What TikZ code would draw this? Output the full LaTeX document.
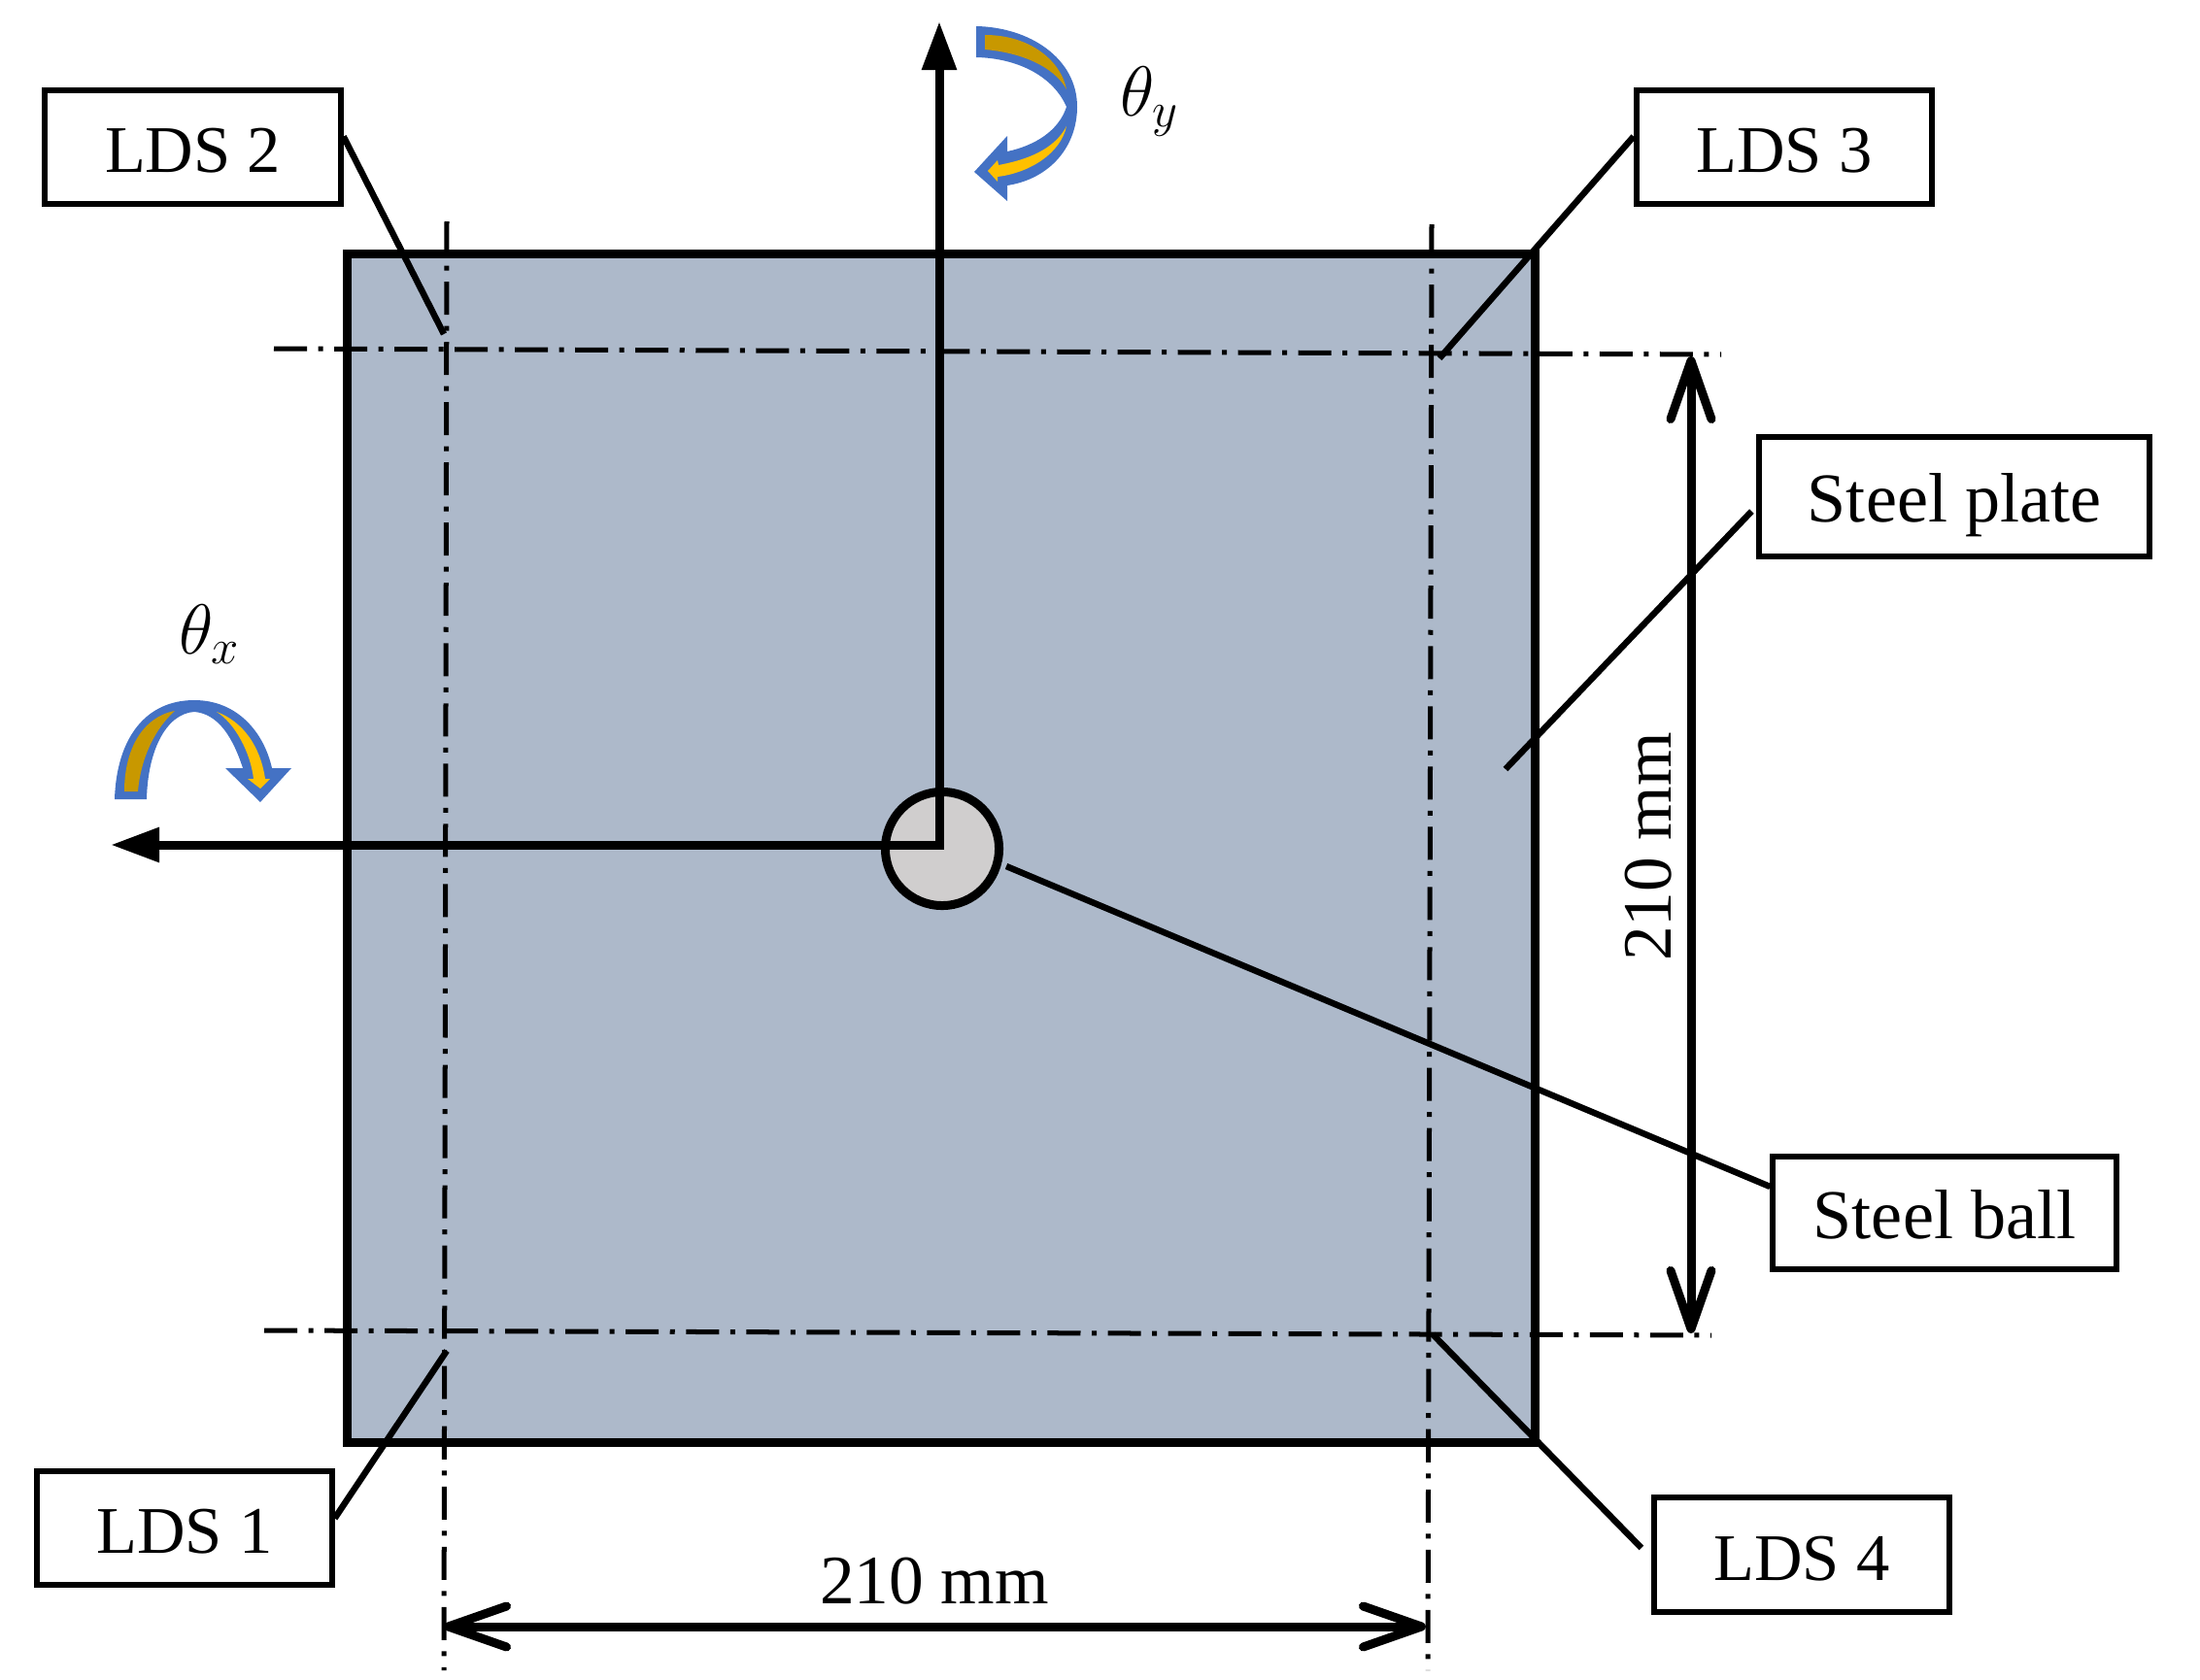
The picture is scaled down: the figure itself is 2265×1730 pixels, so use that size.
\documentclass[tikz,border=0pt]{standalone}
\usepackage{fontspec}
\setmainfont{Liberation Serif}
\usetikzlibrary{arrows.meta, positioning}
\definecolor{platecolor}{HTML}{ADB9CA}
\definecolor{ballcolor}{HTML}{D0CECE}
\definecolor{bendblue}{HTML}{4472C4}
\definecolor{benddark}{HTML}{C89800}
\definecolor{bendgold}{HTML}{FFC000}

\begin{document}
\begin{tikzpicture}[x=0.01cm, y=-0.01cm,
    % Styles
    label box/.style={draw, line width=0.06cm, fill=white, inner sep=0, text height=0.52cm, text depth=0, font=\fontsize{20.5}{24}\selectfont},
    lds box/.style={label box, minimum width=3.04cm, minimum height=1.17cm, font=\fontsize{19.5}{24}\selectfont},
    leader/.style={line width=0.065cm},
    centre line/.style={line width=0.05cm, dash pattern=on 0.34cm off 0.115cm on 0.05cm off 0.115cm},
    plate/.style={draw, line width=0.09cm, fill=platecolor, inner sep=0, minimum width=12.22cm, minimum height=12.23cm},
    ball/.style={draw, circle, line width=0.09cm, fill=ballcolor, inner sep=0, minimum size=1.17cm},
    axis/.style={line width=0.09cm, {Triangle[length=0.5cm, width=0.34cm]}-{Triangle[length=0.5cm, width=0.34cm]}},
    size arrow/.style={line width=0.09cm, {Straight Barb[length=0.6cm, width=0.42cm, round]}-{Straight Barb[length=0.6cm, width=0.42cm, round]}},
    size label/.style={font=\fontsize{20.3}{24}\selectfont},
    angle label/.style={font=\fontsize{20}{24}\selectfont},
]
    \useasboundingbox (0,0) rectangle (2265,1730);

    % === Plate and ball ===
    \node[plate] (steel-plate) at (969,873.5) {};
    \node[ball] (steel-ball) at (970,874) {};

    % === Centre lines ===
    \coordinate (v1-top) at (460,228);
    \coordinate (v1-bot) at (457,1720);
    \coordinate (v2-top) at (1474,231);
    \coordinate (v2-bot) at (1470,1720);
    \coordinate (h1-left) at (282,359);
    \coordinate (h1-right) at (1772,365);
    \coordinate (h2-left) at (272,1370);
    \coordinate (h2-right) at (1762,1375);
    \draw[centre line] (v1-top) -- (v1-bot);
    \draw[centre line] (v2-top) -- (v2-bot);
    \draw[centre line] (h1-left) -- (h1-right);
    \draw[centre line] (h2-left) -- (h2-right);

    % === Rotation axes ===
    \coordinate (axis-origin) at (967,870);
    \coordinate (axis-y) at (967,22);
    \coordinate (axis-x) at (114,870);
    \draw[axis] (axis-y) -- (axis-origin) -- (axis-x);

    % === Labels and leaders ===
    \node[lds box] (lds-2) at (198.5,151.5) {LDS 2};
    \node[lds box] (lds-3) at (1837,151.5) {LDS 3};
    \node[label box, minimum width=4.01cm, minimum height=1.23cm] (plate-label) at (2012,511.5) {Steel plate};
    \node[label box, minimum width=3.53cm, minimum height=1.16cm] (ball-label) at (2002,1249) {Steel ball};
    \node[lds box, minimum width=3.03cm] (lds-1) at (190,1573.5) {LDS 1};
    \node[lds box] (lds-4) at (1855,1601) {LDS 4};

    \coordinate (lds-2-end) at (457,344);
    \coordinate (lds-3-end) at (1482,369);
    \coordinate (lds-1-end) at (460,1391);
    \coordinate (lds-4-end) at (1475,1374);
    \coordinate (plate-end) at (1550,792);
    \draw[leader] ([yshift=0.11cm]lds-2.east) -- (lds-2-end);
    \draw[leader] ([yshift=0.11cm]lds-3.west) -- (lds-3-end);
    \draw[leader] ([yshift=0.1cm]lds-1.east) -- (lds-1-end);
    \draw[leader] ([xshift=-0.1cm,yshift=0.07cm]lds-4.west) -- (lds-4-end);
    \draw[leader] ([xshift=-0.05cm,yshift=-0.15cm]plate-label.west) -- (plate-end);
    \draw[leader] ([yshift=0.27cm]ball-label.west) -- ([xshift=0.03cm,yshift=-0.18cm]steel-ball.east);

    % === 210 mm sizes ===
    \coordinate (size-v-top) at (1741,367);
    \coordinate (size-v-bot) at (1741,1373);
    \coordinate (size-h-left) at (457,1675);
    \coordinate (size-h-right) at (1468,1675);
    \draw[size arrow] (size-v-top) -- (size-v-bot);
    \draw[size arrow] (size-h-left) -- (size-h-right);
    \node[size label] (size-h-label) at (962,1628) {210 mm};
    \node[size label, rotate=90] (size-v-label) at (1697,872) {210 mm};

    % === Bending arrows ===
    \fill[bendblue] (1005,27) .. controls (1060,28) and (1109,60) .. (1109,110)
        .. controls (1109,150) and (1082,184) .. (1037,191)
        -- (1037,207) -- (1003,177) -- (1037,140) -- (1037,156)
        .. controls (1065,150) and (1090,135) .. (1098,110)
        .. controls (1085,80) and (1050,60) .. (1005,59) -- cycle;
    \fill[benddark] (1014,36) -- (1014,51) .. controls (1050,54) and (1085,68) .. (1098,92)
        .. controls (1092,62) and (1060,36) .. (1014,36) -- cycle;
    \fill[bendgold] (1098,130) .. controls (1092,158) and (1060,178) .. (1027,182)
        -- (1027,187) -- (1017,176) -- (1027,165) -- (1028,170)
        .. controls (1055,165) and (1085,155) .. (1098,130) -- cycle;

    \fill[bendblue] (118,823) .. controls (120,760) and (150,721) .. (200,721)
        .. controls (245,721) and (272,755) .. (280,791)
        -- (300,791) -- (268,826) -- (232,791) -- (250,791)
        .. controls (240,760) and (225,735) .. (200,733)
        .. controls (170,735) and (152,775) .. (151,823) -- cycle;
    \fill[benddark] (128,815) -- (142,815) .. controls (145,780) and (160,750) .. (180,732)
        .. controls (148,738) and (128,770) .. (128,815) -- cycle;
    \fill[bendgold] (223,733) .. controls (242,745) and (258,775) .. (261,802)
        -- (255,802) -- (268,812) -- (278,802) -- (273,802)
        .. controls (268,768) and (250,743) .. (223,733) -- cycle;

    \node[angle label, anchor=base west, inner sep=0] (theta-y) at (1153,120) {$\theta_y$};
    \node[angle label, anchor=base west, inner sep=0] (theta-x) at (184,673) {$\theta_x$};
\end{tikzpicture}
\end{document}
